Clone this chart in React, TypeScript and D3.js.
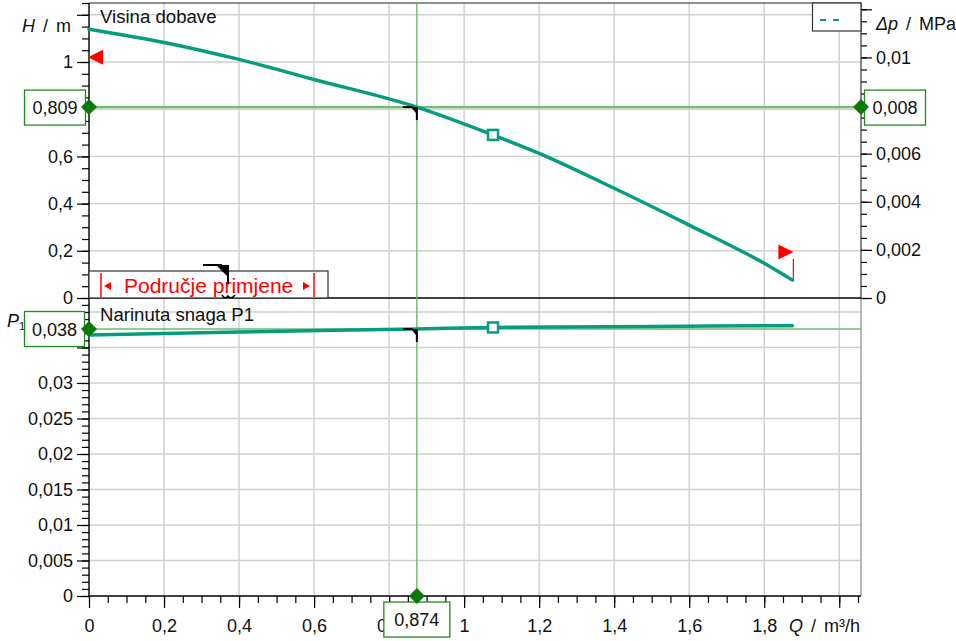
import React, { useEffect, useRef } from 'react';
import * as d3 from 'd3';

// H(Q) pump curve
const flowQ = [0, 0.2, 0.4, 0.6, 0.874, 1.077, 1.2, 1.4, 1.6, 1.8, 1.875];
const headH = [1.139, 1.083, 1.011, 0.926, 0.809, 0.691, 0.613, 0.465, 0.309, 0.147, 0.076];
// P1(Q) power curve
const powerQ = [0, 0.4, 0.874, 1.077, 1.5, 1.875];
const powerP1 = [0.03676, 0.03718, 0.03762, 0.03782, 0.03797, 0.03807];

// duty point + its labels
const duty = { q: 0.874, h: 0.809, p: 0.0376 };
const dutyLabels = { q: '0,874', h: '0,809', dp: '0,008', p: '0,038' };
// square marker on the curves
const marker = { q: 1.077, h: 0.691, p: 0.03782 };
// application range (Područje primjene)
const rangeQ = [0, 1.875];
const rangeFlagH = [1.02, 0.195];

// tick labels (values hidden under the value boxes are left out)
const qTicks = [0, 0.2, 0.4, 0.6, 0.8, 1, 1.2, 1.4, 1.6, 1.8];
const qMajor = [0, 0.2, 0.4, 0.6, 0.8, 1, 1.2, 1.4, 1.6, 1.8, 2];
const hTicks = [0, 0.2, 0.4, 0.6, 1];
const hMajor = [0, 0.2, 0.4, 0.6, 0.8, 1, 1.2];
const dpTicks = [0, 0.002, 0.004, 0.006, 0.01];
const dpMajor = [0, 0.002, 0.004, 0.006, 0.008, 0.01, 0.012];
const pTicks = [0, 0.005, 0.01, 0.015, 0.02, 0.025, 0.03];
const pMajor = [0, 0.005, 0.01, 0.015, 0.02, 0.025, 0.03, 0.035, 0.04];

const RHO_G = 0.00981; // MPa per m

const FONT = '"Liberation Sans", Arial, sans-serif';
const TEAL = '#079c80';
const GREEN = '#1f8a1f';
const DARKGREEN = '#0b7a0b';
const LINEGREEN = '#6cbf6c';

export default function App() {
  const svgRef = useRef<SVGSVGElement>(null);

  useEffect(() => {
    const svg = d3.select(svgRef.current);
    svg.selectAll('*').remove();

    const left = 89, right = 861, top = 3, mid = 298, bottom = 596;

    const x = d3.scaleLinear().domain([0, 2.058]).range([left, right]);
    const yH = d3.scaleLinear().domain([0, 1.25]).range([mid, top]);
    const yDp = d3.scaleLinear().domain([0, 1.25 * RHO_G]).range([mid, top]);
    const yP = d3.scaleLinear().domain([0, 0.04197]).range([bottom, mid]);

    const loc = d3.formatLocale({ decimal: ',', thousands: '.', grouping: [3], currency: ['', ''] });
    const fmt = (d: number) => loc.format('~g')(+d.toPrecision(6));

    // grid
    const grid = svg.append('g').attr('stroke', '#cfcfcf').attr('stroke-width', 1.4);
    qMajor.slice(1).forEach(q => {
      grid.append('line').attr('x1', x(q)).attr('x2', x(q)).attr('y1', top).attr('y2', bottom);
    });
    hMajor.slice(1).forEach(h => {
      grid.append('line').attr('x1', left).attr('x2', right).attr('y1', yH(h)).attr('y2', yH(h));
    });
    pMajor.slice(1).forEach(p => {
      grid.append('line').attr('x1', left).attr('x2', right).attr('y1', yP(p)).attr('y2', yP(p));
    });

    // axes
    const styleAxis = (g: any) => {
      g.select('.domain').remove();
      g.selectAll('line').attr('stroke', '#000').attr('stroke-width', 1.2);
      g.selectAll('text').attr('font-size', 18).attr('font-family', FONT).attr('fill', '#111');
      g.selectAll('text').filter(function (this: any) { return this.textContent === ''; }).remove();
    };
    const minorOnly = (g: any) => {
      g.select('.domain').remove();
      g.selectAll('text').remove();
      g.selectAll('line').attr('stroke', '#000').attr('stroke-width', 1.2);
    };

    // left H
    svg.append('g').attr('transform', `translate(${left},0)`)
      .call(d3.axisLeft(yH).tickValues(d3.range(0, 1.2501, 0.05)).tickSize(7)).call(minorOnly);
    svg.append('g').attr('transform', `translate(${left},0)`)
      .call(d3.axisLeft(yH).tickValues(hMajor).tickSize(12).tickPadding(4)
        .tickFormat((d: any) => (hTicks.includes(d) ? fmt(d) : ''))).call(styleAxis);
    // right dp
    svg.append('g').attr('transform', `translate(${right},0)`)
      .call(d3.axisRight(yDp).tickValues(d3.range(0, 0.01226, 0.0005)).tickSize(6)).call(minorOnly);
    svg.append('g').attr('transform', `translate(${right},0)`)
      .call(d3.axisRight(yDp).tickValues(dpMajor).tickSize(11).tickPadding(4)
        .tickFormat((d: any) => (dpTicks.includes(d) ? fmt(d) : ''))).call(styleAxis);
    // left P1
    svg.append('g').attr('transform', `translate(${left},0)`)
      .call(d3.axisLeft(yP).tickValues(d3.range(0, 0.0419, 0.001)).tickSize(7)).call(minorOnly);
    svg.append('g').attr('transform', `translate(${left},0)`)
      .call(d3.axisLeft(yP).tickValues(pMajor).tickSize(12).tickPadding(4)
        .tickFormat((d: any) => (pTicks.includes(d) ? fmt(d) : ''))).call(styleAxis);
    // bottom Q
    svg.append('g').attr('transform', `translate(0,${bottom})`)
      .call(d3.axisBottom(x).tickValues(d3.range(0, 2.0581, 0.05)).tickSize(7)).call(minorOnly);
    svg.append('g').attr('transform', `translate(0,${bottom})`)
      .call(d3.axisBottom(x).tickValues(qMajor).tickSize(12).tickPadding(11)
        .tickFormat((d: any) => (qTicks.includes(d) ? fmt(d) : ''))).call(styleAxis);

    // frame
    const frame = svg.append('g').attr('fill', 'none');
    frame.append('line').attr('x1', left).attr('x2', right).attr('y1', top).attr('y2', top).attr('stroke', '#222').attr('stroke-width', 1.2);
    frame.append('line').attr('x1', right).attr('x2', right).attr('y1', top).attr('y2', mid).attr('stroke', '#333').attr('stroke-width', 1.2);
    frame.append('line').attr('x1', right).attr('x2', right).attr('y1', mid).attr('y2', bottom).attr('stroke', '#888').attr('stroke-width', 1.2);
    frame.append('line').attr('x1', left).attr('x2', right).attr('y1', mid).attr('y2', mid).attr('stroke', '#000').attr('stroke-width', 1.4);
    frame.append('line').attr('x1', left).attr('x2', right).attr('y1', bottom).attr('y2', bottom).attr('stroke', '#000').attr('stroke-width', 1.4);
    frame.append('line').attr('x1', left).attr('x2', left).attr('y1', top).attr('y2', bottom).attr('stroke', '#000').attr('stroke-width', 1.4);

    // axis titles
    const title = (tx: number, ty: number, anchor: string, italic: string, rest: string) => {
      const t = svg.append('text').attr('x', tx).attr('y', ty).attr('text-anchor', anchor)
        .attr('font-family', FONT).attr('font-size', 18).attr('fill', '#111')
        .attr('word-spacing', 3).attr('xml:space', 'preserve');
      t.append('tspan').attr('font-style', 'italic').text(italic);
      t.append('tspan').text(rest);
    };
    title(71, 32, 'end', 'H', ' / m');
    title(876, 30, 'start', 'Δp', ' / MPa');
    title(860, 632, 'end', 'Q', ' / m³/h');
    const pl = svg.append('text').attr('x', 7).attr('y', 327)
      .attr('font-family', FONT).attr('font-size', 18).attr('fill', '#111');
    pl.append('tspan').attr('font-style', 'italic').text('P');
    pl.append('tspan').attr('font-size', 11).attr('dy', 3).text('1');

    svg.append('text').attr('x', 100).attr('y', 23).attr('font-family', FONT).attr('font-size', 18.6)
      .attr('fill', '#111').text('Visina dobave');
    svg.append('text').attr('x', 100).attr('y', 321).attr('font-family', FONT).attr('font-size', 18.6)
      .attr('fill', '#111').text('Narinuta snaga P1');

    // application range box
    const rb = svg.append('g');
    rb.append('rect').attr('x', left).attr('y', 271).attr('width', 239).attr('height', mid - 271)
      .attr('fill', '#fff').attr('stroke', '#333').attr('stroke-width', 1.2);
    rb.append('line').attr('x1', 101).attr('x2', 101).attr('y1', 273).attr('y2', 297).attr('stroke', 'red').attr('stroke-width', 1.5);
    rb.append('line').attr('x1', 314).attr('x2', 314).attr('y1', 273).attr('y2', 297).attr('stroke', 'red').attr('stroke-width', 1.5);
    rb.append('path').attr('d', 'M104,286 L111,282 L111,290 Z').attr('fill', 'red');
    rb.append('path').attr('d', 'M310,286 L303,282 L303,290 Z').attr('fill', 'red');
    rb.append('text').attr('x', 124).attr('y', 293).attr('font-family', FONT).attr('font-size', 21)
      .attr('fill', 'red').text('Područje primjene');
    // hook glyph over the box
    rb.append('path').attr('d', 'M203,265 L222,265').attr('stroke', '#000').attr('stroke-width', 2);
    rb.append('path').attr('d', 'M216,265 L229,265 L229,278 Z').attr('fill', '#000');
    rb.append('path').attr('d', 'M228,265 L228,284').attr('stroke', '#000').attr('stroke-width', 2);
    rb.append('path').attr('d', 'M222,295 Q225,300 228,296 Q231,300 235,295').attr('fill', 'none')
      .attr('stroke', '#000').attr('stroke-width', 1.5);

    // range flags
    svg.append('path')
      .attr('d', `M${x(rangeQ[0]) - 1},${yH(rangeFlagH[0])} l15,-7.5 l0,15 Z`).attr('fill', 'red');
    const fx = x(rangeQ[1]) + 1;
    svg.append('path')
      .attr('d', `M${fx},${yH(rangeFlagH[1])} l-15,-7.5 l0,15 Z`).attr('fill', 'red');
    svg.append('line').attr('x1', fx).attr('x2', fx).attr('y1', yH(rangeFlagH[1]) + 7)
      .attr('y2', yH(headH[headH.length - 1])).attr('stroke', 'red').attr('stroke-width', 1.2);

    // duty lines
    const dl = svg.append('g');
    dl.append('line').attr('x1', left).attr('x2', right).attr('y1', yH(duty.h)).attr('y2', yH(duty.h))
      .attr('stroke', LINEGREEN).attr('stroke-width', 2.2);
    dl.append('line').attr('x1', left).attr('x2', right).attr('y1', yP(duty.p)).attr('y2', yP(duty.p))
      .attr('stroke', LINEGREEN).attr('stroke-width', 1.6);
    dl.append('line').attr('x1', x(duty.q)).attr('x2', x(duty.q)).attr('y1', top).attr('y2', bottom)
      .attr('stroke', '#5cb85c').attr('stroke-width', 1.3);

    // curves
    const hLine = d3.line<number>().x((_, i) => x(flowQ[i])).y(d => yH(d)).curve(d3.curveMonotoneX);
    svg.append('path').datum(headH).attr('d', hLine).attr('fill', 'none').attr('stroke', TEAL)
      .attr('stroke-width', 3.5).attr('stroke-linecap', 'round');
    const pLine = d3.line<number>().x((_, i) => x(powerQ[i])).y(d => yP(d)).curve(d3.curveMonotoneX);
    svg.append('path').datum(powerP1).attr('d', pLine).attr('fill', 'none').attr('stroke', TEAL)
      .attr('stroke-width', 3.5).attr('stroke-linecap', 'round');

    // square markers
    [[x(marker.q), yH(marker.h)], [x(marker.q), yP(marker.p)]].forEach(([mx, my]) => {
      svg.append('rect').attr('x', mx - 5).attr('y', my - 5).attr('width', 10).attr('height', 10)
        .attr('fill', '#fff').attr('stroke', TEAL).attr('stroke-width', 2.5);
    });

    // hooks at duty point
    [yH(duty.h), yP(duty.p)].forEach(hy => {
      const hx = x(duty.q);
      svg.append('path').attr('d', `M${hx - 14},${hy} L${hx - 4},${hy}`).attr('stroke', '#000').attr('stroke-width', 2);
      svg.append('path').attr('d', `M${hx - 6},${hy} L${hx},${hy} L${hx},${hy + 7} Z`).attr('fill', '#000');
      svg.append('path').attr('d', `M${hx},${hy} L${hx},${hy + 13}`).attr('stroke', '#000').attr('stroke-width', 2);
    });

    // diamonds + value boxes
    const diamond = (cx: number, cy: number) => {
      svg.append('path').attr('d', `M${cx - 8},${cy} L${cx},${cy - 8} L${cx + 8},${cy} L${cx},${cy + 8} Z`)
        .attr('fill', DARKGREEN);
    };
    const valueBox = (bx: number, by: number, w: number, label: string) => {
      svg.append('rect').attr('x', bx).attr('y', by).attr('width', w).attr('height', 35)
        .attr('fill', '#fff').attr('stroke', GREEN).attr('stroke-width', 1.3);
      svg.append('text').attr('x', bx + w / 2).attr('y', by + 24).attr('text-anchor', 'middle')
        .attr('font-family', FONT).attr('font-size', 18).attr('fill', '#111').text(label);
    };
    valueBox(24.5, yH(duty.h) - 17, 61, dutyLabels.h);
    valueBox(864.5, yH(duty.h) - 17, 61, dutyLabels.dp);
    valueBox(24.5, yP(duty.p) - 17.5, 60, dutyLabels.p);
    valueBox(x(duty.q) - 33, bottom + 6, 66, dutyLabels.q);
    diamond(left, yH(duty.h));
    diamond(right, yH(duty.h));
    diamond(left, yP(duty.p));
    diamond(x(duty.q), bottom);

    // legend box
    svg.append('rect').attr('x', 812.5).attr('y', top).attr('width', right - 812.5).attr('height', 28)
      .attr('fill', '#fff').attr('stroke', '#333').attr('stroke-width', 1.2);
    svg.append('line').attr('x1', 820).attr('x2', 840).attr('y1', 20).attr('y2', 20)
      .attr('stroke', TEAL).attr('stroke-width', 2).attr('stroke-dasharray', '6,7');
  }, []);

  return (
    <svg
      ref={svgRef}
      width={956}
      height={641}
      style={{ position: 'fixed', left: 0, top: 0, background: '#fff' }}
    />
  );
}
